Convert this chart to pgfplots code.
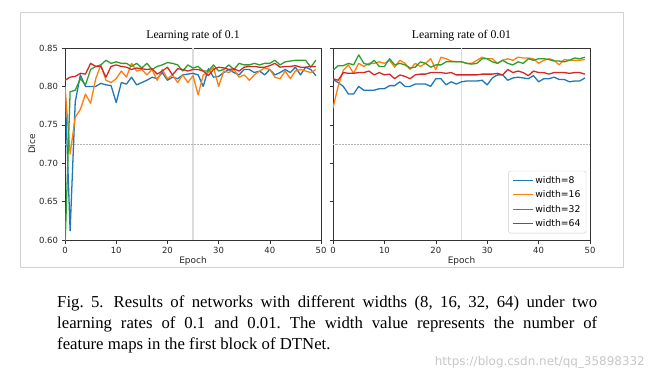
\documentclass[border=0pt]{standalone}
\usepackage{fontspec}
\setmainfont{Liberation Serif}
\newfontfamily\dv{DejaVu Sans}
\usepackage{pgfplots}
\usepackage{pgfplotstable}
\pgfplotsset{compat=1.18}
\definecolor{cb}{HTML}{1F77B4}
\definecolor{co}{HTML}{FF7F0E}
\definecolor{cg}{HTML}{2CA02C}
\definecolor{cr}{HTML}{D62728}

\pgfplotstableread{
e b o g r
0 0.800 0.800 0.590 0.808
1 0.612 0.712 0.793 0.812
2 0.780 0.760 0.795 0.813
3 0.815 0.770 0.810 0.817
4 0.800 0.790 0.802 0.816
5 0.800 0.778 0.822 0.830
6 0.800 0.810 0.826 0.826
7 0.804 0.828 0.828 0.826
8 0.802 0.808 0.834 0.812
9 0.801 0.805 0.830 0.826
10 0.779 0.810 0.832 0.828
11 0.805 0.820 0.830 0.826
12 0.803 0.812 0.830 0.825
13 0.812 0.830 0.826 0.822
14 0.802 0.820 0.830 0.824
15 0.805 0.822 0.824 0.823
16 0.808 0.815 0.830 0.822
17 0.812 0.822 0.822 0.823
18 0.810 0.808 0.826 0.816
19 0.818 0.822 0.828 0.820
20 0.808 0.810 0.831 0.825
21 0.812 0.815 0.830 0.815
22 0.810 0.805 0.828 0.823
23 0.815 0.815 0.820 0.822
24 0.816 0.805 0.828 0.820
25 0.817 0.814 0.824 0.822
26 0.815 0.789 0.826 0.822
27 0.800 0.815 0.820 0.820
28 0.823 0.818 0.820 0.814
29 0.812 0.825 0.828 0.822
30 0.813 0.800 0.820 0.825
31 0.818 0.820 0.822 0.824
32 0.822 0.818 0.828 0.822
33 0.818 0.822 0.822 0.823
34 0.815 0.812 0.830 0.820
35 0.822 0.815 0.828 0.825
36 0.822 0.808 0.828 0.826
37 0.818 0.815 0.830 0.826
38 0.820 0.820 0.828 0.825
39 0.815 0.824 0.830 0.825
40 0.822 0.822 0.830 0.827
41 0.815 0.812 0.834 0.830
42 0.818 0.810 0.828 0.825
43 0.822 0.820 0.832 0.826
44 0.818 0.810 0.833 0.826
45 0.825 0.820 0.834 0.827
46 0.815 0.822 0.834 0.825
47 0.825 0.820 0.834 0.825
48 0.822 0.818 0.825 0.826
49 0.814 0.822 0.834 0.826
}\lra

\pgfplotstableread{
e b o g r
0 0.809 0.772 0.821 0.810
1 0.805 0.800 0.827 0.808
2 0.800 0.821 0.827 0.818
3 0.790 0.828 0.830 0.817
4 0.790 0.817 0.828 0.817
5 0.800 0.830 0.841 0.818
6 0.795 0.826 0.830 0.818
7 0.795 0.830 0.828 0.820
8 0.795 0.830 0.834 0.815
9 0.797 0.832 0.826 0.818
10 0.797 0.830 0.826 0.815
11 0.801 0.834 0.836 0.816
12 0.801 0.825 0.828 0.810
13 0.806 0.834 0.830 0.815
14 0.800 0.830 0.828 0.813
15 0.800 0.822 0.824 0.810
16 0.803 0.830 0.825 0.815
17 0.803 0.826 0.832 0.816
18 0.803 0.830 0.830 0.816
19 0.800 0.836 0.825 0.818
20 0.810 0.822 0.828 0.818
21 0.810 0.838 0.828 0.818
22 0.802 0.836 0.832 0.817
23 0.806 0.833 0.832 0.818
24 0.803 0.832 0.832 0.815
25 0.806 0.832 0.832 0.815
26 0.807 0.830 0.830 0.815
27 0.807 0.830 0.829 0.815
28 0.807 0.834 0.830 0.815
29 0.808 0.838 0.836 0.816
30 0.802 0.836 0.836 0.816
31 0.811 0.836 0.832 0.816
32 0.815 0.830 0.830 0.817
33 0.815 0.834 0.834 0.815
34 0.808 0.836 0.830 0.822
35 0.811 0.834 0.828 0.818
36 0.812 0.838 0.832 0.820
37 0.811 0.837 0.830 0.818
38 0.810 0.837 0.836 0.814
39 0.814 0.836 0.834 0.820
40 0.806 0.830 0.836 0.818
41 0.810 0.834 0.836 0.818
42 0.810 0.836 0.835 0.816
43 0.812 0.834 0.833 0.818
44 0.809 0.828 0.833 0.818
45 0.809 0.835 0.832 0.818
46 0.806 0.834 0.834 0.817
47 0.807 0.834 0.837 0.818
48 0.807 0.834 0.836 0.818
49 0.811 0.835 0.838 0.816
}\lrb

\pgfplotsset{
  mystyle/.style={
    scale only axis, height=192bp,
    xmin=0, xmax=50, ymin=0.60, ymax=0.85,
    xtick={0,10,...,50},
    ytick={0.60,0.65,0.70,0.75,0.80,0.85},
    xtick pos=left, ytick pos=left,
    tick align=outside, major tick length=3.5bp,
    tick style={black!80, line width=0.6pt},
    axis line style={black!80, line width=0.7pt},
    ticklabel style={font=\dv\fontsize{8.5}{10}\selectfont, black!85},
    label style={font=\dv\fontsize{9}{10}\selectfont, black!85},
    title style={font=\fontsize{11.8}{13}\selectfont, yshift=-2.5bp},
    /pgf/number format/assume math mode=true,
    yticklabel style={/pgf/number format/fixed, /pgf/number format/fixed zerofill, /pgf/number format/precision=2},
    scaled y ticks=false,
    xlabel style={yshift=4bp},
    every axis plot/.append style={line width=1.3pt, line join=round},
    clip=true,
  }
}

\begin{document}
\begin{tikzpicture}[x=1bp,y=1bp]
\useasboundingbox[fill=white] (0,0) rectangle (654,380);
\draw[black!18, line width=0.8pt] (20,113) rectangle (623,368);

\begin{axis}[mystyle, at={(65bp,140bp)}, anchor=south west, width=256bp,
  title={Learning rate of 0.1}, xlabel={Epoch}, ylabel={Dice}, ylabel style={yshift=-3bp}]
\draw[black!14, line width=1.2pt] (axis cs:25,0.60) -- (axis cs:25,0.85);
\draw[black!30, line width=0.5pt, densely dotted] (axis cs:0,0.725) -- (axis cs:50,0.725);
\addplot[cb, no marks] table[x=e,y=b] {\lra};
\addplot[co, no marks] table[x=e,y=o] {\lra};
\addplot[cg, no marks] table[x=e,y=g] {\lra};
\addplot[cr, no marks] table[x=e,y=r] {\lra};
\end{axis}

\begin{axis}[mystyle, at={(333bp,140bp)}, anchor=south west, width=257bp,
  title={Learning rate of 0.01}, xlabel={Epoch}, yticklabels={},
  legend style={at={(0.985,0.035)}, anchor=south east, font=\dv\fontsize{9.3}{11}\selectfont,
    draw=black!20, rounded corners=2pt, row sep=2bp, inner xsep=3.5bp, inner ysep=3bp},
  legend cell align=left,
  legend image code/.code={\draw[#1, line width=1.3pt] (0bp,0bp) -- (20bp,0bp);}]
\draw[black!14, line width=1.2pt] (axis cs:25,0.60) -- (axis cs:25,0.85);
\draw[black!30, line width=0.5pt, densely dotted] (axis cs:0,0.725) -- (axis cs:50,0.725);
\addplot[cb, no marks] table[x=e,y=b] {\lrb};
\addlegendentry{width=8}
\addplot[co, no marks] table[x=e,y=o] {\lrb};
\addlegendentry{width=16}
\addplot[cg, no marks] table[x=e,y=g] {\lrb};
\addlegendentry{width=32}
\addplot[cr, no marks] table[x=e,y=r] {\lrb};
\addlegendentry{width=64}
\end{axis}

\node[anchor=base west, inner sep=0pt] at (57,73) {\parbox[t]{540bp}{\fontsize{16.8}{21.5}\selectfont\frenchspacing
Fig.~5.\hspace{0.6em}Results of networks with different widths (8, 16, 32, 64) under two\linebreak
learning rates of 0.1 and 0.01. The width value represents the number of\linebreak
feature maps in the first block of DTNet.}};
\node[anchor=base east, inner sep=0pt, text=black!22] at (645,15) {\dv\fontsize{12}{14}\selectfont https://blog.csdn.net/qq\_35898332};
\end{tikzpicture}
\end{document}
